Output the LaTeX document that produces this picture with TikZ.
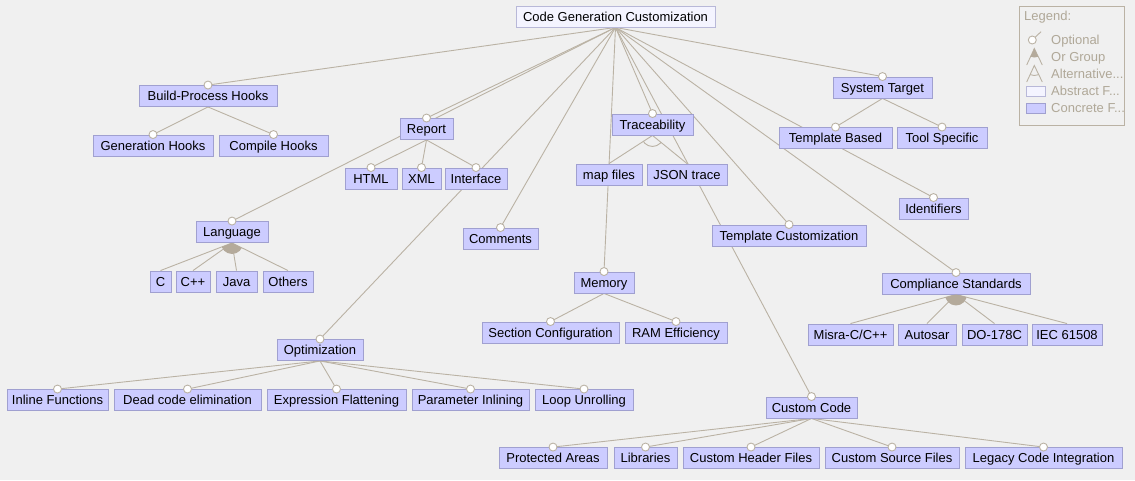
\documentclass[tikz,border=0pt]{standalone}
\usepackage{fontspec}
\setmainfont{Liberation Sans}
\usetikzlibrary{backgrounds}
\definecolor{bgc}{RGB}{240,240,240}
\definecolor{lnc}{RGB}{186,178,164}
\definecolor{cfill}{RGB}{204,204,255}
\definecolor{cdraw}{RGB}{160,160,208}
\definecolor{afill}{RGB}{244,244,255}
\definecolor{adraw}{RGB}{184,184,216}
\definecolor{legtext}{RGB}{176,168,152}
\definecolor{grpfill}{RGB}{180,170,155}
\begin{document}
\begin{tikzpicture}[x=1pt,y=-1pt,
  font=\fontsize{13}{15}\selectfont,
  feat/.style={draw=cdraw, fill=cfill, line width=0.9pt, minimum height=21pt, inner sep=0pt, text=black, text height=10pt, text depth=0.7pt},
  absfeat/.style={feat, draw=adraw, fill=afill},
  link/.style={draw=lnc, line width=0.9pt},
  optc/.style={circle, draw=lnc, fill=white, line width=0.9pt, minimum size=8pt, inner sep=0pt},
  legtxt/.style={anchor=west, text=legtext, inner sep=0pt, text height=10pt, text depth=0.7pt}]
\useasboundingbox (0,0) rectangle (1135,480);

% ---------- nodes ----------
\node[absfeat, minimum width=199pt] (root) at (615.5,16.5) {Code Generation Customization};

\node[feat, minimum width=138pt] (bph) at (208,96) {Build-Process Hooks};
\node[feat, minimum width=120pt] (genh) at (153,145.5) {Generation Hooks};
\node[feat, minimum width=109pt] (comph) at (273.5,145.5) {Compile Hooks};

\node[feat, minimum width=53pt] (report) at (426.5,129) {Report};
\node[feat, minimum width=52pt] (html) at (371,178.5) {HTML};
\node[feat, minimum width=39pt] (xml) at (421.5,178.5) {XML};
\node[feat, minimum width=62pt] (iface) at (476,178.5) {Interface};

\node[feat, minimum width=81pt] (trace) at (652.5,124.5) {Traceability};
\node[feat, minimum width=66pt] (mapf) at (609,174.5) {map files};
\node[feat, minimum width=80pt] (json) at (687,174.5) {JSON trace};

\node[feat, minimum width=99pt] (systarget) at (882.5,87.5) {System Target};
\node[feat, minimum width=113pt] (tbased) at (835.5,138) {Template Based};
\node[feat, minimum width=90pt] (tspec) at (942,138) {Tool Specific};
\node[feat, minimum width=69pt] (ident) at (933.5,208.5) {Identifiers};

\node[feat, minimum width=154pt] (tcust) at (789,235.5) {Template Customization};
\node[feat, minimum width=75pt] (comments) at (500.5,238.5) {Comments};

\node[feat, minimum width=60pt] (memory) at (604,282.5) {Memory};
\node[feat, minimum width=137pt] (secconf) at (550.5,332.5) {Section Configuration};
\node[feat, minimum width=102pt] (ram) at (676,332.5) {RAM Efficiency};

\node[feat, minimum width=72pt] (lang) at (232,232) {Language};
\node[feat, minimum width=21pt] (lc) at (160.5,281.5) {C};
\node[feat, minimum width=34pt] (lcpp) at (193,281.5) {C++};
\node[feat, minimum width=41pt] (ljava) at (236.5,281.5) {Java};
\node[feat, minimum width=50pt] (lothers) at (288,281.5) {Others};

\node[feat, minimum width=148pt] (compl) at (956,283.5) {Compliance Standards};
\node[feat, minimum width=85pt] (misra) at (850.5,334.5) {Misra-C/C++};
\node[feat, minimum width=58pt] (autosar) at (927,334.5) {Autosar};
\node[feat, minimum width=65pt] (do) at (994.5,334.5) {DO-178C};
\node[feat, minimum width=70pt] (iec) at (1067,334.5) {IEC 61508};

\node[feat, minimum width=86pt] (optim) at (320,350) {Optimization};
\node[feat, minimum width=101pt] (inlinef) at (57.5,400) {Inline Functions};
\node[feat, minimum width=147pt] (dead) at (187.5,400) {Dead code elimination};
\node[feat, minimum width=139pt] (expr) at (336.5,400) {Expression Flattening};
\node[feat, minimum width=117pt] (param) at (470.5,400) {Parameter Inlining};
\node[feat, minimum width=98pt] (loop) at (584,400) {Loop Unrolling};

\node[feat, minimum width=91pt] (ccode) at (811.5,407.5) {Custom Code};
\node[feat, minimum width=108pt] (prot) at (553,458) {Protected Areas};
\node[feat, minimum width=63pt] (libs) at (645.5,458) {Libraries};
\node[feat, minimum width=136pt] (chf) at (751,458) {Custom Header Files};
\node[feat, minimum width=134pt] (csf) at (892,458) {Custom Source Files};
\node[feat, minimum width=157pt] (legacy) at (1043.5,458) {Legacy Code Integration};

% ---------- background and connectors (behind boxes) ----------
\begin{scope}[on background layer]
\fill[bgc] (0,0) rectangle (1135,480);
\foreach \p/\c in {root/bph, root/report, root/lang, root/optim, root/comments, root/memory,
  root/trace, root/ccode, root/tcust, root/ident, root/compl, root/systarget,
  bph/genh, bph/comph, report/html, report/xml, report/iface,
  systarget/tbased, systarget/tspec, memory/secconf, memory/ram,
  optim/inlinef, optim/dead, optim/expr, optim/param, optim/loop,
  ccode/prot, ccode/libs, ccode/chf, ccode/csf, ccode/legacy,
  trace/mapf, trace/json,
  lang/lc, lang/lcpp, lang/ljava, lang/lothers,
  compl/misra, compl/autosar, compl/do, compl/iec}
  {\draw[link] (\p.south) -- (\c.north);}
\end{scope}

% ---------- group markers ----------
\begin{scope}
  \clip (lang.south) -- (lc.north) -- (lothers.north) -- cycle;
  \fill[grpfill] (lang.south) circle (11);
\end{scope}
\begin{scope}
  \clip (compl.south) -- (misra.north) -- (iec.north) -- cycle;
  \fill[grpfill] (compl.south) circle (11);
\end{scope}
\begin{scope}
  \clip (trace.south) -- (mapf.north) -- (json.north) -- cycle;
  \draw[lnc, line width=0.9pt] (trace.south) circle (11);
\end{scope}

% ---------- optional circles ----------
\foreach \c in {bph, report, lang, optim, comments, memory, trace, ccode, tcust, ident, compl, systarget,
  genh, comph, html, xml, iface, tbased, tspec, secconf, ram,
  inlinef, dead, expr, param, loop, prot, libs, chf, csf, legacy}
  {\node[optc] at (\c.north) {};}

% ---------- legend ----------
\draw[lnc, line width=0.9pt] (1019,6) rectangle (1124,125);
\node[legtxt] (lg) at (1024,15.5) {Legend:};
\coordinate (lo1) at (1032.3,40);
\coordinate (lo2) at (1041,31.7);
\draw[link] (lo1) -- (lo2);
\node[optc] (lopt) at (lo1) {};
\node[legtxt] (lgo) at (1051,39.5) {Optional};

\coordinate (og) at (1034.3,48.5);
\coordinate (ogl) at (1026.7,65);
\coordinate (ogr) at (1042.3,65);
\draw[link] (ogl) -- (og) -- (ogr);
\begin{scope}
  \clip (og) -- (ogl) -- (ogr) -- cycle;
  \fill[grpfill] (og) circle (9);
\end{scope}
\node[legtxt] (lgor) at (1051,56.5) {Or Group};

\coordinate (ag) at (1034.3,65.5);
\coordinate (agl) at (1026.7,82);
\coordinate (agr) at (1042.3,82);
\draw[link] (agl) -- (ag) -- (agr);
\begin{scope}
  \clip (ag) -- (agl) -- (agr) -- cycle;
  \draw[lnc, line width=0.9pt] (ag) circle (10);
\end{scope}
\node[legtxt] (lgalt) at (1051,73.5) {Alternative...};

\draw[draw=adraw, fill=afill, line width=0.9pt] (1026,86.7) rectangle (1045,96.7);
\node[legtxt] (lgabs) at (1051,90.5) {Abstract F...};
\draw[draw=cdraw, fill=cfill, line width=0.9pt] (1026,103.3) rectangle (1045,113.3);
\node[legtxt] (lgcon) at (1051,107.5) {Concrete F...};
\end{tikzpicture}
\end{document}
